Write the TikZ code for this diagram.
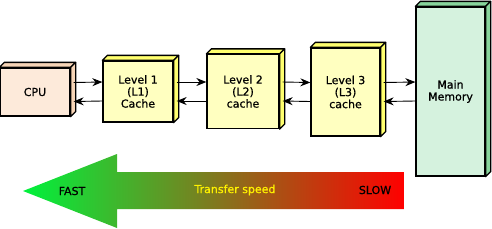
\documentclass[tikz,border=0pt]{standalone}
\usepackage{fontspec}
\setmainfont{DejaVu Sans}[BoldFont={DejaVu Sans}, BoldFeatures={FakeBold=0.7}]
\usepackage{tikz}
\usetikzlibrary{arrows.meta,calc}

\definecolor{cpufront}{RGB}{253,234,218}
\definecolor{cpuside}{RGB}{246,212,182}
\definecolor{cachefront}{RGB}{255,255,192}
\definecolor{cacheside}{RGB}{255,255,110}
\definecolor{memfront}{RGB}{213,242,222}
\definecolor{memside}{RGB}{135,212,155}
\definecolor{fastgreen}{RGB}{0,242,60}

% top and side face of a block
\newcommand{\blockdepth}[2]{%
  \filldraw[#2, draw=black, line width=1.3pt, line join=round]
    (#1.north west) -- ++(5,-5) -- ($(#1.north east)+(5,-5)$) -- (#1.north east) -- cycle;
  \filldraw[#2, draw=black, line width=1.3pt, line join=round]
    (#1.north east) -- ++(5,-5) -- ($(#1.south east)+(5,-5)$) -- (#1.south east) -- cycle;
}

\begin{document}
\begin{tikzpicture}[x=1pt, y=-1pt,
        block/.style={draw, line width=1.3pt, inner sep=0pt, align=center,
          font=\fontsize{11}{12}\selectfont\bfseries},
        cpublock/.style={block, fill=cpufront},
        cacheblock/.style={block, fill=cachefront},
        memblock/.style={block, fill=memfront},
        link/.style={line width=0.9pt, -{Stealth[length=10pt, width=8pt]}},
        speedlabel/.style={font=\fontsize{11}{12}\selectfont\bfseries}
      ]
        \useasboundingbox (0,0) rectangle (492,228);

        % Bloecke
        \node[cpublock, minimum width=70pt, minimum height=48pt] (cpu) at (35,92) {CPU};
        \node[cacheblock, minimum width=70pt, minimum height=61pt] (l1) at (138,91.5) {Level 1\\(L1)\\Cache};
        \node[cacheblock, minimum width=72pt, minimum height=74pt] (l2) at (243,91.5) {Level 2\\(L2)\\cache};
        \node[cacheblock, minimum width=69pt, minimum height=88pt] (l3) at (345.5,92) {Level 3\\(L3)\\cache};
        \node[memblock, minimum width=69pt, minimum height=169pt] (mem) at (450.5,91.5) {Main\\Memory};
        \blockdepth{cpu}{cpuside}
        \blockdepth{l1}{cacheside}
        \blockdepth{l2}{cacheside}
        \blockdepth{l3}{cacheside}
        \blockdepth{mem}{memside}

        % Verbindungen
        \foreach \a/\b in {cpu/l1, l1/l2, l2/l3, l3/mem} {
          \draw[link] ([xshift=3pt, yshift=9.5pt]\a.east) -- ([yshift=9.5pt]\b.west);
          \draw[link] ([yshift=-9.5pt]\b.west) -- ([xshift=3pt, yshift=-9.5pt]\a.east);
        }

        % Transfergeschwindigkeit
        \shade[left color=fastgreen, right color=red]
          (23,191) -- (117,154) -- (117,172) -- (404,172) -- (404,209) -- (117,209) -- (117,228) -- cycle;
        \node[speedlabel] (fast) at (72,191) {FAST};
        \node[speedlabel, text=yellow] (speed) at (235,190) {Transfer speed};
        \node[speedlabel] (slow) at (375,190) {SLOW};
      \end{tikzpicture}
\end{document}
